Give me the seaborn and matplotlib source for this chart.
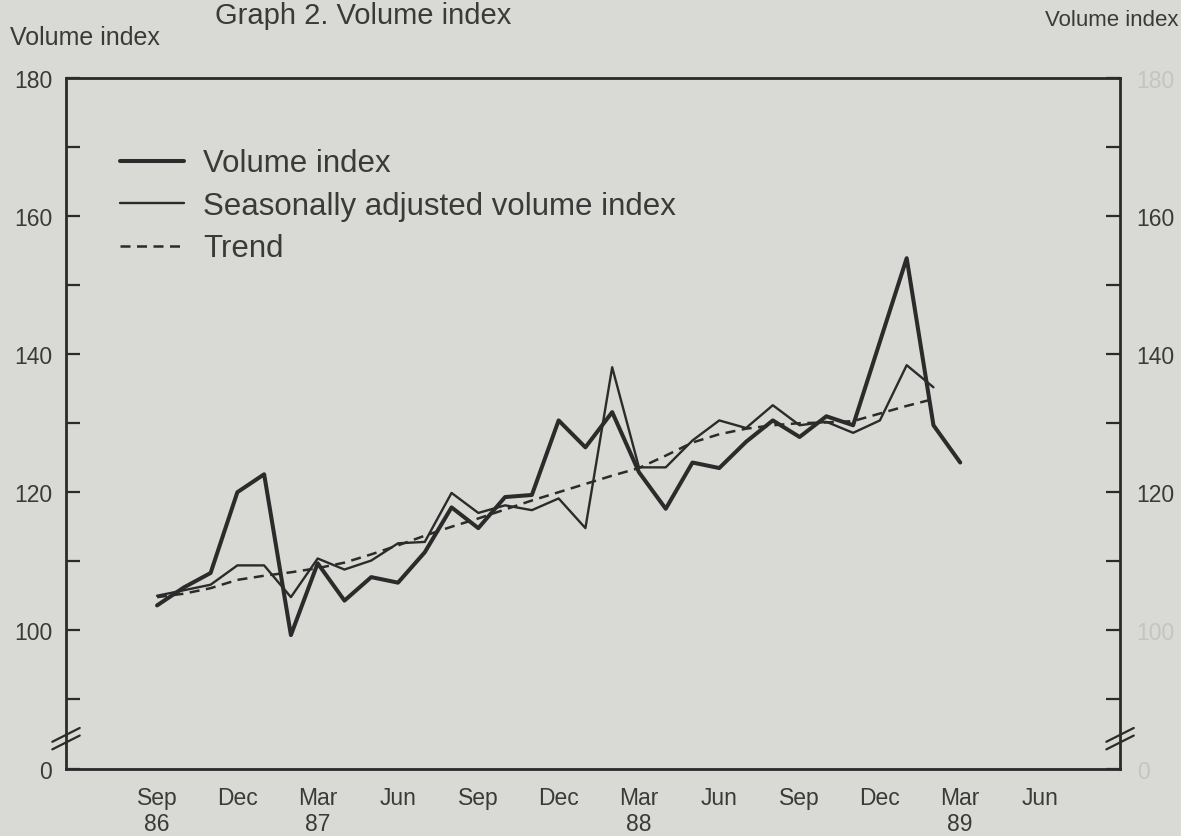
import matplotlib
matplotlib.use("Agg")
import matplotlib.pyplot as plt
import matplotlib.transforms as mtransforms
import seaborn as sns
import pandas as pd

# --- data (month 0 = Sep 86) ---
months_volume = list(range(31))          # Sep 86 .. Mar 89
volume_index = [103.6, 106.2, 108.3, 120.0, 122.6, 99.3, 109.7, 104.3, 107.7, 106.9,
                111.3, 117.8, 114.8, 119.3, 119.6, 130.4, 126.5, 131.6, 122.9, 117.6,
                124.3, 123.5, 127.3, 130.4, 128.0, 131.0, 129.7, 141.8, 153.9, 129.7,
                124.3]

months_adjusted = list(range(30))        # Sep 86 .. Feb 89
seasonally_adjusted = [105.0, 105.8, 106.6, 109.4, 109.4, 104.8, 110.4, 108.8, 110.1, 112.6,
                       112.8, 119.9, 117.0, 118.1, 117.4, 119.1, 114.8, 138.1, 123.6, 123.6,
                       127.5, 130.4, 129.3, 132.6, 129.7, 130.2, 128.6, 130.4, 138.4, 135.2]

trend = [104.8, 105.3, 106.1, 107.3, 107.9, 108.4, 109.0, 109.8, 111.0, 112.3,
         113.7, 115.0, 116.2, 117.5, 118.8, 120.0, 121.2, 122.4, 123.5, 125.3,
         127.2, 128.4, 129.2, 129.7, 130.0, 130.1, 130.3, 131.4, 132.5, 133.5]

tick_months = [0, 3, 6, 9, 12, 15, 18, 21, 24, 27, 30, 33]
tick_labels = ["Sep\n86", "Dec", "Mar\n87", "Jun", "Sep", "Dec",
               "Mar\n88", "Jun", "Sep", "Dec", "Mar\n89", "Jun"]

y_bottom = 79.9   # shown as "0" because of the axis break
left_ticks = [y_bottom, 90, 100, 110, 120, 130, 140, 150, 160, 170, 180]
left_labels = ["0", "", "100", "", "120", "", "140", "", "160", "", "180"]

df_vol = pd.DataFrame({"mes": months_volume, "valor": volume_index})
df_adj = pd.DataFrame({"mes": months_adjusted, "valor": seasonally_adjusted})
df_trend = pd.DataFrame({"mes": months_adjusted, "valor": trend})

# --- style ---
paper = "#d9d9d5"
ink = "#2b2b2b"
text_col = "#3a3a3a"
sns.set_theme(style="white")
plt.rcParams["font.family"] = ["Liberation Sans", "DejaVu Sans"]

fig = plt.figure(figsize=(11.81, 8.37), dpi=100, facecolor=paper)
ax = fig.add_axes([0.0559, 0.0800, 0.8925, 0.8256])
ax.set_facecolor(paper)

sns.lineplot(data=df_vol, x="mes", y="valor", ax=ax, color=ink, linewidth=2.9,
             label="Volume index")
sns.lineplot(data=df_adj, x="mes", y="valor", ax=ax, color=ink, linewidth=1.7,
             label="Seasonally adjusted volume index")
sns.lineplot(data=df_trend, x="mes", y="valor", ax=ax, color=ink, linewidth=1.8,
             linestyle=(0, (4, 2.6)), label="Trend")

ax.set_xlim(-3.40, 35.97)
ax.set_ylim(y_bottom, 180)
ax.set_xlabel("")
ax.set_ylabel("")

for side in ["left", "right", "top", "bottom"]:
    ax.spines[side].set_visible(True)
    ax.spines[side].set_color(ink)
    ax.spines[side].set_linewidth(2.0)

ax.set_xticks(tick_months)
ax.set_xticklabels(tick_labels)
ax.set_yticks(left_ticks)
ax.set_yticklabels(left_labels)
ax.tick_params(axis="x", direction="in", length=9, width=1.6, color=ink,
               labelsize=16.5, labelcolor=text_col, pad=12)
ax.tick_params(axis="y", direction="in", length=10, width=1.6, color=ink,
               labelsize=16.5, labelcolor=text_col, pad=10)

# right axis, same scale
ax2 = ax.twinx()
ax2.set_ylim(y_bottom, 180)
ax2.set_yticks(left_ticks)
ax2.set_yticklabels(left_labels)
ax2.tick_params(axis="y", direction="in", length=10, width=1.6, color=ink,
                labelsize=16.5, labelcolor=text_col, pad=12)
for side in ["left", "right", "top", "bottom"]:
    ax2.spines[side].set_visible(False)
for lab in ax2.get_yticklabels():
    if lab.get_text() not in ("160", "140", "120"):
        lab.set_color("#c4c4c0")

# axis break marks
for x_ax in (0.0, 1.0):
    trans = mtransforms.blended_transform_factory(ax.transAxes, ax.transData)
    for dy in (-0.55, 0.55):
        ax.plot([x_ax - 0.013, x_ax + 0.013], [84.3 + dy - 1.0, 84.3 + dy + 1.0],
                transform=trans, color=ink, linewidth=1.6, clip_on=False)

leg = ax.legend(loc="upper left", bbox_to_anchor=(0.0512, 0.898), frameon=False,
                fontsize=22.5, handlelength=2.05, handletextpad=0.62, labelspacing=0.4,
                borderaxespad=0, borderpad=0)
for t in leg.get_texts():
    t.set_color(text_col)

fig.text(10 / 1181, 1 - 38 / 837, "Volume index", fontsize=18, color=text_col,
         ha="left", va="center")
fig.text(1045 / 1181, 1 - 20 / 837, "Volume index", fontsize=16, color=text_col,
         ha="left", va="center")
fig.text(215 / 1181, 1 - 24 / 837, "Graph 2. Volume index", fontsize=21, color=text_col,
         ha="left", va="baseline")

fig.savefig("out.png", dpi=100, facecolor=paper)
